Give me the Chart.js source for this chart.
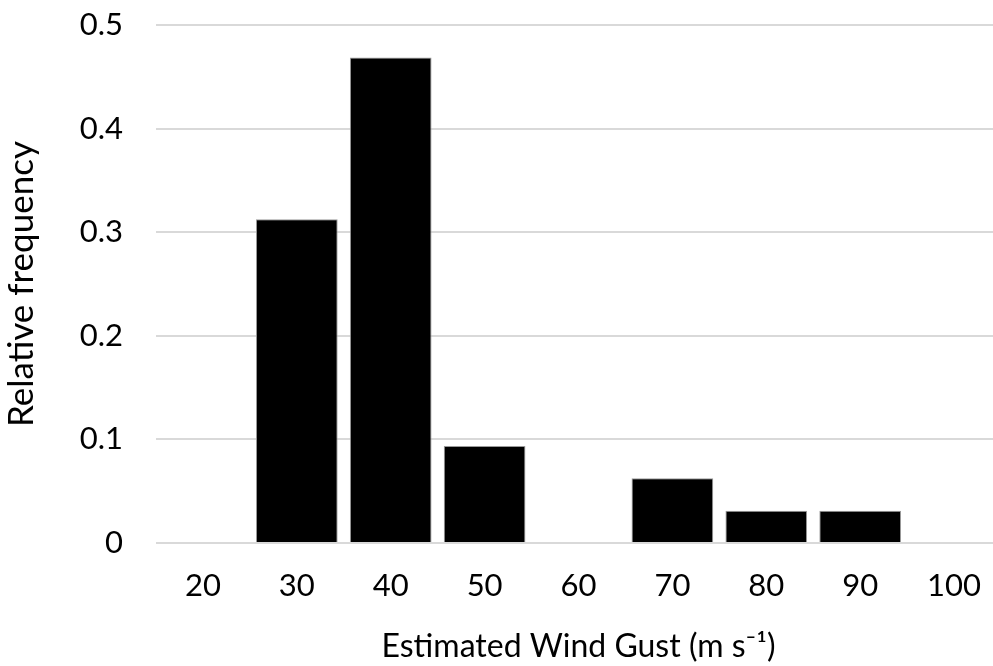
<!DOCTYPE html>
<html>
<head>
<meta charset="utf-8">
<script src="https://cdn.jsdelivr.net/npm/chart.js@4/dist/chart.umd.min.js"></script>
<style>
  html, body { margin: 0; padding: 0; background: #ffffff; overflow: hidden; }
  #wrap { width: 1001px; height: 666px; }
</style>
</head>
<body>
<div id="wrap"><canvas id="c" width="1001" height="666"></canvas></div>
<script>
const categories = ['20', '30', '40', '50', '60', '70', '80', '90', '100'];
const relativeFrequency = [0, 0.3125, 0.46875, 0.09375, 0, 0.0625, 0.03125, 0.03125, 0];
const yTicks = [0, 0.1, 0.2, 0.3, 0.4, 0.5];
const xTitle = 'Estimated Wind Gust (m s\u207B\u00B9)';
const yTitle = 'Relative frequency';

const FONT = 'Lato, "Open Sans", sans-serif';
const CANVAS_H = 666;
const PLOT_LEFT = 156;
const PLOT_TOP = 25;
const PLOT_BOTTOM = 543;

new Chart(document.getElementById('c'), {
  type: 'bar',
  data: {
    labels: categories,
    datasets: [{
      data: relativeFrequency,
      backgroundColor: '#000000',
      borderColor: '#9a9a9a',
      borderWidth: 1,
      barPercentage: 0.87,
      categoryPercentage: 1.0
    }]
  },
  options: {
    responsive: false,
    animation: false,
    layout: { padding: { top: PLOT_TOP, left: 0, right: 0, bottom: 0 } },
    plugins: {
      legend: { display: false },
      tooltip: { enabled: false }
    },
    scales: {
      x: {
        afterFit: (s) => { s.height = CANVAS_H - PLOT_BOTTOM; s.paddingLeft = 0; s.paddingRight = 0; },
        grid: { display: false, drawTicks: false },
        border: { display: false },
        ticks: { color: '#000000', font: { family: FONT, size: 31 }, padding: 24, maxRotation: 0 },
        title: { display: true, text: xTitle, color: '#000000', font: { family: FONT, size: 32 }, padding: { top: 0, bottom: 0 } }
      },
      y: {
        min: 0,
        max: 0.5,
        afterBuildTicks: (scale) => { scale.ticks = yTicks.map(v => ({ value: v })); },
        afterFit: (s) => { s.width = PLOT_LEFT; s.paddingTop = 0; s.paddingBottom = 0; },
        grid: { color: '#d9d9d9', lineWidth: 2, drawTicks: false },
        border: { display: false },
        ticks: {
          color: '#000000',
          font: { family: FONT, size: 31 },
          padding: 33,
          callback: (v) => (v === 0 ? '0' : Number(v).toFixed(1))
        },
        title: { display: true, text: yTitle, color: '#000000', font: { family: FONT, size: 35 }, padding: { top: 1, bottom: 0 } }
      }
    }
  }
});
</script>
</body>
</html>
